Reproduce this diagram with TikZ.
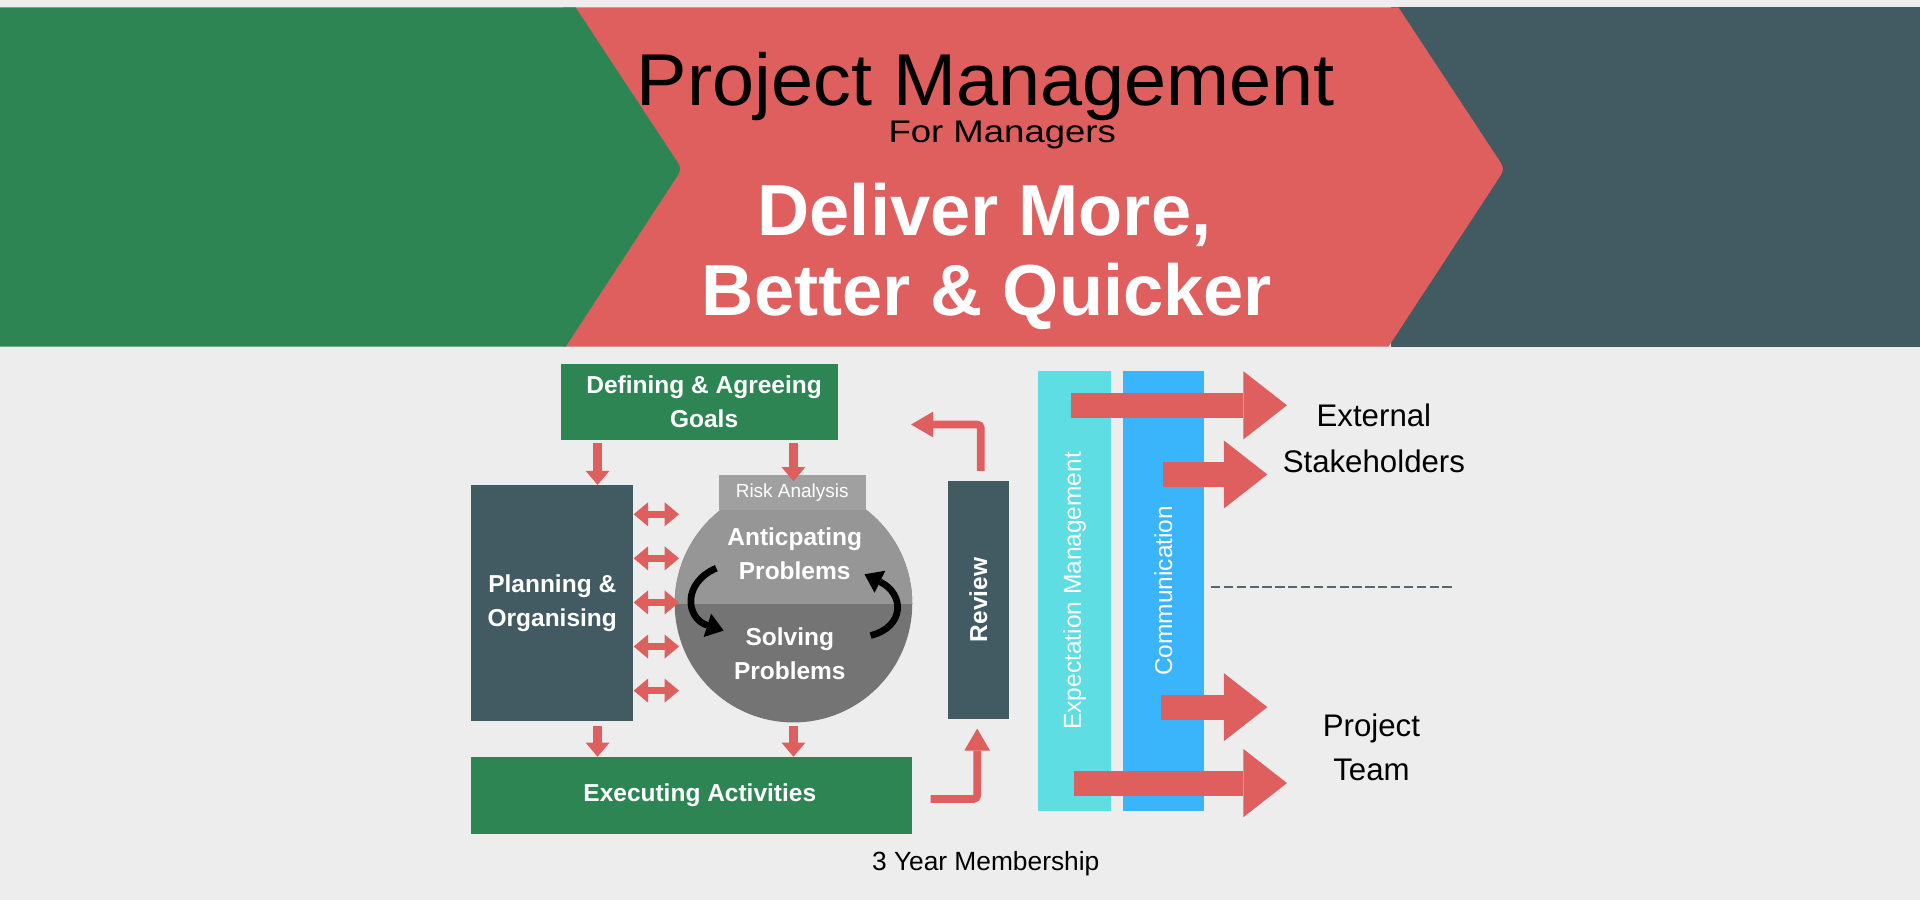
\documentclass[tikz,border=0pt]{standalone}
\usepackage{fontspec}
\setmainfont{Liberation Sans}
\usetikzlibrary{arrows.meta,calc}
\definecolor{pmgreen}{RGB}{46,133,84}
\definecolor{pmred}{RGB}{223,94,94}
\definecolor{pmslate}{RGB}{66,91,99}
\definecolor{pmbg}{RGB}{237,237,237}
\definecolor{pmrisk}{RGB}{160,160,160}
\definecolor{pmup}{RGB}{150,150,150}
\definecolor{pmlow}{RGB}{116,116,116}
\definecolor{pmcyan}{RGB}{94,221,227}
\definecolor{pmblue}{RGB}{58,180,250}
\definecolor{pmdash}{RGB}{85,104,110}
\newcommand\pmfs[2]{\fontsize{#1}{#2}\selectfont}
\begin{document}
\begin{tikzpicture}[x=1pt,y=-1pt,
  box/.style={rectangle,inner sep=0pt,outer sep=0pt,text=white,align=center,font=\bfseries\pmfs{20}{27.5}},
  bar/.style={rectangle,inner sep=0pt,outer sep=0pt,text=white,minimum height=359pt,font=\pmfs{20}{20}},
  dnarrow/.style={pmred,line width=7.3pt,-{Triangle[length=11.5pt,width=19.5pt,line width=0pt]}},
  dblarrow/.style={pmred,line width=6pt,{Triangle[length=11.7pt,width=19.6pt,line width=0pt]}-{Triangle[length=11.7pt,width=19.6pt,line width=0pt]}},
  elbowarrow/.style={pmred,line width=6.3pt,rounded corners=3pt,-{Triangle[length=18pt,width=21pt,line width=0pt]}},
  bigarrow/.style={pmred,line width=20.5pt,-{Triangle[length=35.5pt,width=55.5pt,line width=0pt]}},
  curvarrow/.style={black,line width=5.5pt,-{Triangle[length=14pt,width=20pt,line width=0pt]}},
  label/.style={align=center,inner sep=0pt,text=black}]
\fill[pmbg] (0,0) rectangle (1568,735);
\useasboundingbox (0,0) rectangle (1568,735);
% top band
\fill[pmslate] (1136,6) rectangle (1568,283);
\fill[pmred] (460,6) -- (1142,6) -- (1222.4,128) .. controls (1229,138) .. (1222.4,148) -- (1134,283) -- (460,283) -- cycle;
\fill[pmgreen] (0,6) -- (470,6) -- (550.4,128) .. controls (557,138) .. (550.4,148) -- (462,283) -- (0,283) -- cycle;
\node[anchor=base,inner sep=0pt,font=\pmfs{60}{60}] (title) at (805,85.8) {\scalebox{1.03}[1]{Project Management}};
\node[anchor=base,inner sep=0pt,font=\pmfs{25.5}{25.5}] (sub) at (818.5,116.5) {\scalebox{1.17}[1]{For Managers}};
\node[anchor=base,inner sep=0pt,text=white,font=\bfseries\pmfs{59}{59}] (tag1) at (804,192) {Deliver More,};
\node[anchor=base,inner sep=0pt,text=white,font=\bfseries\pmfs{59}{59}] (tag2) at (806,258) {Better \& Quicker};
% process boxes
\node[box,fill=pmgreen,minimum width=226pt,minimum height=62pt] (def) at (571,328) {\hspace*{8pt}Defining \& Agreeing\\\hspace*{8pt}Goals};
\node[box,fill=pmslate,minimum width=132pt,minimum height=193pt] (plan) at (451,492.5) {Planning \&\\Organising};
\fill[pmlow] (648,493) circle[radius=97pt];
\begin{scope}
  \clip (648,493) circle[radius=97pt];
  \fill[pmup] (540,380) rectangle (760,493);
\end{scope}
\node[circle,minimum size=194pt,inner sep=0pt] (circ) at (648,493) {};
\node[box,fill=pmrisk,minimum width=120pt,minimum height=28.5pt,font=\pmfs{15.5}{15.5}] (risk) at (647,402.2) {Risk Analysis};
\node[box] (antic) at (649,452) {Anticpating\\Problems};
\node[box] (solv) at (645,534) {Solving\\Problems};
\node[box,fill=pmgreen,minimum width=360pt,minimum height=63pt] (exec) at (565,649.5) {\hspace*{13pt}Executing Activities};
\node[box,fill=pmslate,minimum width=50pt,minimum height=194pt] (rev) at (799,490) {\rotatebox{90}{Review}};
% cycle arrows
\draw[curvarrow] (585,464) .. controls (557,476) and (560,505) .. (591,515);
\draw[curvarrow] (711,519) .. controls (739,512) and (739,485) .. (706,469);
% connectors
\coordinate (d1) at (488,362);
\coordinate (d2) at (648,362);
\coordinate (d3) at (488,593);
\coordinate (d4) at (648,593);
\draw[dnarrow] (d1) -- (d1 |- plan.north);
\draw[dnarrow] (d2) -- ($(d2 |- risk.north)+(0,5)$);
\draw[dnarrow] (d3) -- (d3 |- exec.north);
\draw[dnarrow] (d4) -- (d4 |- exec.north);
\foreach \yy in {420,456,492,528,564}
  \draw[dblarrow] ($(plan.east |- 0,\yy)+(0.5,0)$) -- ++(37,0);
\coordinate (e1) at (760,652.5);
\draw[elbowarrow] (e1) -| ($(rev.south)+(-1,8)$);
\coordinate (revtip) at (744,346.7);
\draw[elbowarrow] ($(rev.north)+(2,-8.5)$) |- (revtip);
% bars
\node[bar,fill=pmcyan,minimum width=59pt] (expm) at (877.5,482.5) {\rotatebox{90}{Expectation Management}};
\node[bar,fill=pmblue,minimum width=66pt] (comm) at (950,482.5) {\rotatebox{90}{Communication}};
% labels
\node[label,font=\pmfs{25.5}{37}] (ext) at (1122,358) {External\\Stakeholders};
\node[label,font=\pmfs{25.5}{36}] (team) at (1120,610) {Project\\Team};
\node[anchor=base,inner sep=0pt,font=\pmfs{21.5}{21.5}] (mem) at (805,711) {3 Year Membership};
% big arrows
\coordinate (b1s) at (875,331);   \coordinate (b1e) at (1051,331);
\coordinate (b2s) at (950,387.5); \coordinate (b2e) at (1035,387.5);
\coordinate (b3s) at (948,577.5); \coordinate (b3e) at (1035,577.5);
\coordinate (b4s) at (876.7,639.5); \coordinate (b4e) at (1051,639.5);
\draw[bigarrow] (b1s) -- (b1e);
\draw[bigarrow] (b2s) -- (b2e);
\draw[bigarrow] (b3s) -- (b3e);
\draw[bigarrow] (b4s) -- (b4e);
% divider
\coordinate (ds) at (989,479);
\coordinate (de) at (1187,479);
\draw[pmdash,line width=1.6pt,dash pattern=on 7.5pt off 3pt] (ds) -- (de);
\end{tikzpicture}
\end{document}
